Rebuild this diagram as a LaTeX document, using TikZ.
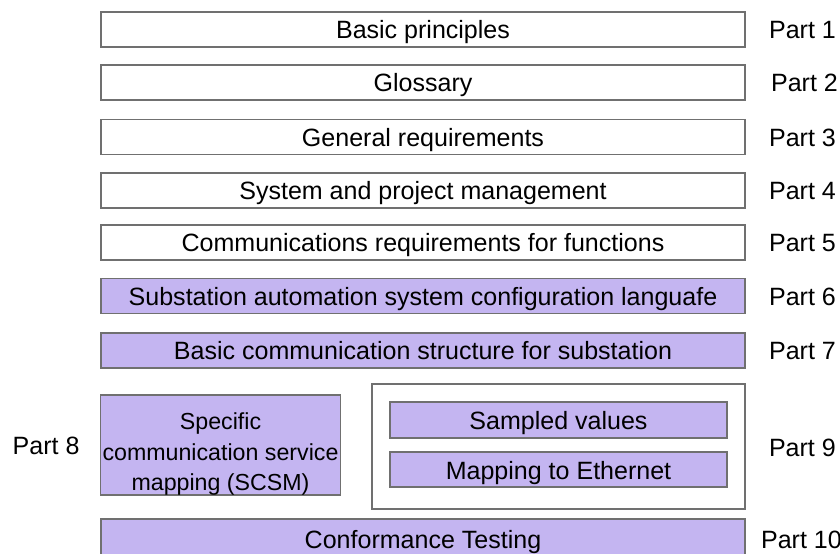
\documentclass[tikz,border=0pt]{standalone}
\usepackage{fontspec}
\setmainfont{Liberation Sans}
\usepackage{xcolor}
\usetikzlibrary{positioning}

\definecolor{lavender}{RGB}{196,181,241}
\definecolor{edgegray}{RGB}{112,112,112}

\begin{document}
\begin{tikzpicture}[
    x=0.025cm, y=-0.025cm,
    part/.style={draw=edgegray, line width=1pt, minimum width=16.1cm, minimum height=0.875cm, inner sep=0pt, align=center, text height=16pt, text depth=2.5pt, font=\fontsize{17.8}{22}\selectfont},
    std/.style={part, fill=white},
    core/.style={part, fill=lavender},
    tag/.style={inner sep=0pt, text height=16pt, text depth=2.5pt, font=\fontsize{17.8}{22}\selectfont}
]
    \useasboundingbox (0,0) rectangle (840,553);
    \clip (0,0) rectangle (840,553);

    % Upper layers - full width
    \node[std] (basic) at (423,29.5) {Basic principles};
    \node[std] (gloss) at (423,82.5) {Glossary};
    \node[std] (genreq) at (423,137) {General requirements};
    \node[std] (sysman) at (423,190.5) {System and project management};
    \node[std] (commreq) at (423,242.5) {Communications requirements for functions};
    \node[core] (scl) at (423,296) {Substation automation system configuration languafe};
    \node[core] (struct) at (423,350.5) {Basic communication structure for substation};

    % Mappings - split row
    \node[draw=edgegray, line width=1pt, fill=lavender, minimum width=6cm, minimum height=2.5cm] (scsm) at (220.5,445) {};
    \node[align=center, inner sep=0pt, font=\fontsize{16.5}{21.6}\selectfont] (scsmtext) at ([yshift=-0.225cm]scsm.center) {Specific\\communication service\\mapping (SCSM)};
    \node[draw=edgegray, line width=1pt, fill=white, minimum width=9.325cm, minimum height=3.125cm] (sv) at (558.5,446.5) {};
    \node[core, minimum width=8.425cm, minimum height=0.9cm] (sampled) at (558.5,420) {Sampled values};
    \node[core, minimum width=8.425cm] (ether) at (558.5,469.5) {Mapping to Ethernet};

    % Testing - runs off the lower edge
    \node[core, minimum height=1cm] (conf) at (423,539) {Conformance Testing};

    % Part numbers
    \node[tag, right=0.575cm of basic] {Part 1};
    \node[tag, right=0.625cm of gloss] {Part 2};
    \node[tag, right=0.575cm of genreq] {Part 3};
    \node[tag, right=0.575cm of sysman] {Part 4};
    \node[tag, right=0.575cm of commreq] {Part 5};
    \node[tag, right=0.575cm of scl] {Part 6};
    \node[tag, right=0.575cm of struct] {Part 7};
    \node[tag, left=0.5cm of scsm] {Part 8};
    \node[tag, right=0.575cm of sv] {Part 9};
    \node[tag, right=0.375cm of conf] {Part 10};
\end{tikzpicture}
\end{document}
